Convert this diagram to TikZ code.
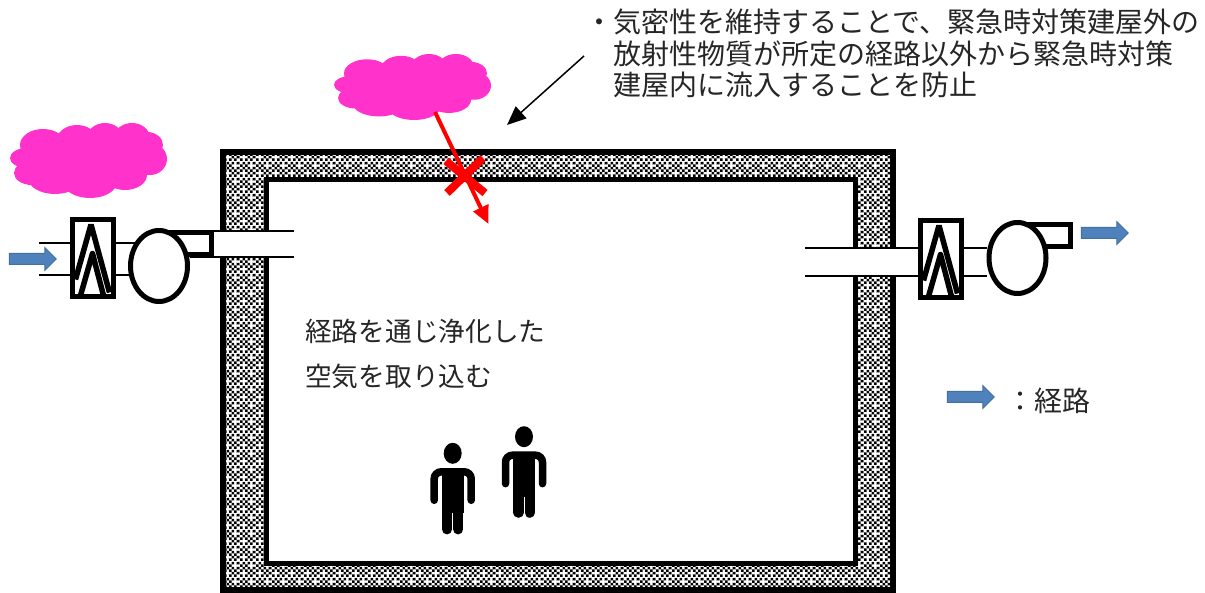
\documentclass[tikz,border=0pt]{standalone}
\usepackage{fontspec}
\setmainfont{Noto Sans CJK JP}
\usetikzlibrary{arrows.meta,patterns,shapes.arrows}
\pgfdeclarepatterninherentlycolored{wallcheck}{\pgfpointorigin}{\pgfqpoint{16pt}{16pt}}{\pgfqpoint{16pt}{16pt}}{
  \pgfsetfillcolor{white}
  \pgfpathrectangle{\pgfpointorigin}{\pgfqpoint{16pt}{16pt}}
  \pgfusepath{fill}
  \pgfsetfillcolor{black}
  \foreach \i in {0,...,5}{
    \foreach \j in {0,...,5}{
      \pgfmathtruncatemacro{\odd}{mod(\i+\j,2)}
      \ifnum\odd=0
        \pgfpathrectangle{\pgfpoint{\i*2.667pt}{\j*2.667pt}}{\pgfqpoint{2.667pt}{2.667pt}}
        \pgfusepath{fill}
      \fi
    }
  }
  \pgfsetfillcolor{white}
  \pgfpathrectangle{\pgfqpoint{2.667pt}{2.667pt}}{\pgfqpoint{2.667pt}{2.667pt}}
  \pgfpathrectangle{\pgfqpoint{10.667pt}{10.667pt}}{\pgfqpoint{2.667pt}{2.667pt}}
  \pgfpathrectangle{\pgfqpoint{1.5pt}{3.4pt}}{\pgfqpoint{5pt}{1.2pt}}
  \pgfpathrectangle{\pgfqpoint{3.4pt}{1.5pt}}{\pgfqpoint{1.2pt}{5pt}}
  \pgfpathrectangle{\pgfqpoint{9.5pt}{11.4pt}}{\pgfqpoint{5pt}{1.2pt}}
  \pgfpathrectangle{\pgfqpoint{11.4pt}{9.5pt}}{\pgfqpoint{1.2pt}{5pt}}
  \pgfusepath{fill}
}
\definecolor{puffpink}{HTML}{FF33CC}
\definecolor{flowblue}{HTML}{4F81BD}
\definecolor{flowedge}{HTML}{41719C}
\tikzset{
  label text/.style={font=\fontsize{26.7}{27}\selectfont,inner sep=0pt,anchor=west,text=black!85},
  note text/.style={font=\fontsize{28}{28}\selectfont,inner sep=0pt,anchor=west,text=black!85},
  wall/.style={line width=6pt,pattern=wallcheck},
  duct/.style={line width=2pt},
  unit/.style={line width=5pt,fill=white},
  flow arrow/.style={shape=single arrow,draw=flowedge,fill=flowblue,line width=1pt,inner sep=0pt,
    text height=10pt,text depth=0pt,minimum height=47pt,single arrow head extend=6pt,single arrow tip angle=90},
  puff/.pic={
    \fill[puffpink]
      (33,22) circle [x radius=23,y radius=16]
      (67,19) circle [x radius=21,y radius=17]
      (95,17) circle [x radius=19,y radius=17]
      (122,15) circle [x radius=18,y radius=15]
      (137,22) circle [x radius=16,y radius=13]
      (140,36) circle [x radius=17,y radius=16]
      (115,52) circle [x radius=22,y radius=15]
      (80,59) circle [x radius=27,y radius=16]
      (45,55) circle [x radius=27,y radius=16]
      (22,50) circle [x radius=18,y radius=12]
      (17,35) circle [x radius=17,y radius=10]
      (78,38) circle [x radius=62,y radius=28];
  },
  person/.pic={
    \fill (0,0) circle [x radius=9,y radius=10.5];
    \draw[line width=7.5pt,line cap=round,rounded corners=7pt] (-18.5,47) -- (-18.5,18.5) -- (18.5,18.5) -- (18.5,47);
    \fill (-11,15) rectangle (11,60);
    \draw[line width=10.2pt,line cap=round] (-5.6,50) -- (-5.6,76) (5.6,50) -- (5.6,76);
  },
  filter/.pic={
    \draw[unit] (0,0) rectangle (41,77);
    \draw[line width=5.5pt,line join=bevel] (3,60) -- (18.5,5) -- (37,73);
    \draw[line width=5.5pt,line join=round] (8,76) -- (20,34) -- (31,76);
    \draw[unit,fill=none] (0,0) rectangle (41,77);
  },
}
\begin{document}
\begin{tikzpicture}[x=1pt,y=-1pt]
  \useasboundingbox (0,0) rectangle (1205,593);

  % Building
  \draw[wall] (223,152) rectangle (893,590);
  \draw[line width=5pt,fill=white] (266.5,179.5) rectangle (855,563);

  % Left duct
  \fill[white] (214,231) rectangle (294,257);
  \draw[duct] (167,231) -- (294,231);
  \draw[duct] (190,257) -- (294,257);
  \draw[duct] (39,243) -- (135,243);
  \draw[duct] (39,275) -- (135,275);
  \draw[unit] (170,232.5) rectangle (211,254.5);
  \draw[unit] (159,266) circle [x radius=28.5,y radius=35.5];
  \pic at (72.5,219.5) {filter};

  % Right duct
  \fill[white] (805,248) rectangle (920,276);
  \draw[duct] (805,248) -- (987,248);
  \draw[duct] (805,276) -- (987,276);
  \draw[unit] (1020,224.5) rectangle (1070.5,246.5);
  \draw[unit] (1017.5,258) circle [x radius=28.5,y radius=35.5];
  \pic at (920.5,220.5) {filter};

  % Clouds
  \pic at (10,123) {puff};
  \begin{scope}[shift={(334,54)},yscale=0.88]
    \pic[transform shape] {puff};
  \end{scope}

  % People
  \pic at (452.7,453.3) {person};
  \pic at (524,436.7) {person};

  % Blocked path
  \coordinate (leak start) at (435,112);
  \coordinate (leak end) at (488.5,224);
  \draw[red,line width=4pt,-{Triangle[length=18pt,width=16pt]}] (leak start) -- (leak end);
  \draw[red,line width=8pt] (447,193) -- (483,158);
  \draw[red,line width=8pt] (446,161) -- (485,193);

  % Arrows
  \node[flow arrow] (flow in) at (30,259) {};
  \node[flow arrow] (flow out) at (1102,233) {};
  \node[flow arrow] (flow key) at (968,397) {};

  % Notes
  \node[note text] (note a) at (585,22) {・気密性を維持することで、緊急時対策建屋外の};
  \node[note text] (note b) at (613,54) {放射性物質が所定の経路以外から緊急時対策};
  \node[note text] (note c) at (613,85) {建屋内に流入することを防止};
  \coordinate (note tail) at (584,56);
  \coordinate (note tip) at (507,125);
  \draw[line width=1.5pt,-{Triangle[length=19pt,width=16pt]}] (note tail) -- (note tip);

  \node[label text] (room a) at (305,331) {経路を通じ浄化した};
  \node[label text] (room b) at (305,376) {空気を取り込む};
  \node[label text,font=\fontsize{28}{28}\selectfont] (key text) at (1006,401) {：経路};
\end{tikzpicture}
\end{document}
